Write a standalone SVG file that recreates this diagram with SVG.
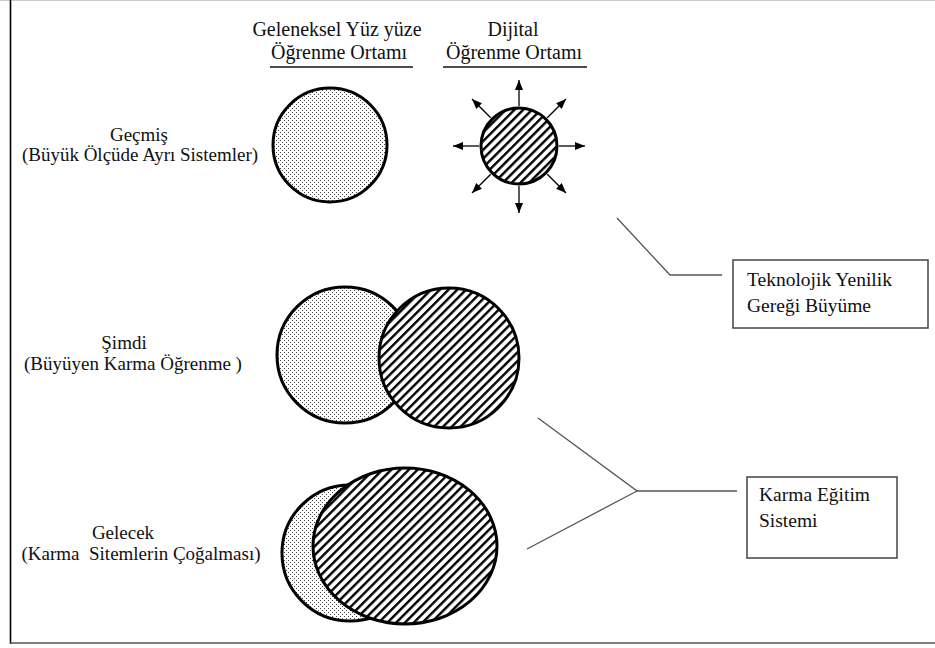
<svg xmlns="http://www.w3.org/2000/svg" width="935" height="648" viewBox="0 0 935 648">
<style>
.t{font-family:"Liberation Serif","Times New Roman","DejaVu Serif",serif;fill:#111}
.hd{font-size:20px}
.lb{font-size:19px}
.bx{font-size:19.5px}
.ring{stroke:#000;stroke-width:3}
.conn{stroke:#555;stroke-width:1.3;fill:none}
.arr{stroke:#000;stroke-width:1.3;marker-end:url(#ah)}
.box{fill:#fff;stroke:#444;stroke-width:1.5}
</style>
<defs>
<pattern id="dots" width="4" height="4" patternUnits="userSpaceOnUse">
<rect width="4" height="4" fill="#fff"/>
<rect x="0" y="0" width="1" height="1" fill="#444"/>
<rect x="2" y="2" width="1" height="1" fill="#444"/>
</pattern>
<pattern id="hatch" width="6.2" height="6.2" patternUnits="userSpaceOnUse" patternTransform="rotate(-45)">
<rect width="6.2" height="6.2" fill="#fff"/>
<rect x="0" y="0" width="6.2" height="2.4" fill="#000"/>
</pattern>
<marker id="ah" markerWidth="10" markerHeight="8" refX="10" refY="4" orient="auto" markerUnits="userSpaceOnUse">
<path d="M0,0 L10,4 L0,8 z" fill="#000"/>
</marker>
</defs>
<rect width="935" height="648" fill="#fff"/>
<g id="frame">
<line x1="0" y1="0.5" x2="935" y2="0.5" stroke="#ccc" stroke-width="1"/>
<line x1="10.5" y1="0" x2="10.5" y2="644" stroke="#000" stroke-width="1.6"/>
<line x1="10" y1="643" x2="935" y2="643" stroke="#555" stroke-width="1.6"/>
</g>
<g id="header-traditional" class="t hd" font-family="Liberation Serif, serif">
<text x="337" y="36" text-anchor="middle">Geleneksel Yüz yüze</text>
<text x="339" y="59" text-anchor="middle">Öğrenme Ortamı</text>
<line x1="270" y1="67" x2="413" y2="67" stroke="#111" stroke-width="1.3"/>
</g>
<g id="header-digital" class="t hd" font-family="Liberation Serif, serif">
<text x="513" y="36" text-anchor="middle">Dijital</text>
<text x="514" y="59" text-anchor="middle">Öğrenme Ortamı</text>
<line x1="443" y1="67" x2="587" y2="67" stroke="#111" stroke-width="1.3"/>
</g>
<g id="label-past" class="t lb" font-family="Liberation Serif, serif">
<text x="139" y="141" text-anchor="middle">Geçmiş</text>
<text x="140" y="161" text-anchor="middle">(Büyük Ölçüde Ayrı Sistemler)</text>
</g>
<g id="label-present" class="t lb" font-family="Liberation Serif, serif">
<text x="124" y="349" text-anchor="middle">Şimdi</text>
<text x="133" y="370" text-anchor="middle">(Büyüyen Karma Öğrenme )</text>
</g>
<g id="label-future" class="t lb" font-family="Liberation Serif, serif">
<text x="123" y="539" text-anchor="middle">Gelecek</text>
<text x="141" y="560" text-anchor="middle" xml:space="preserve">(Karma  Sitemlerin Çoğalması)</text>
</g>
<g id="past-traditional">
<circle class="ring" cx="330" cy="145" r="57" fill="url(#dots)"/>
</g>
<g id="past-digital">
<circle class="ring" cx="519" cy="146" r="38" fill="url(#hatch)"/>
<line class="arr" x1="519" y1="106" x2="519" y2="80"/>
<line class="arr" x1="519" y1="186" x2="519" y2="213"/>
<line class="arr" x1="479" y1="146" x2="453" y2="146"/>
<line class="arr" x1="559" y1="146" x2="585" y2="146"/>
<line class="arr" x1="547.3" y1="117.7" x2="566" y2="99"/>
<line class="arr" x1="490.7" y1="117.7" x2="472" y2="99"/>
<line class="arr" x1="490.7" y1="174.3" x2="472" y2="193"/>
<line class="arr" x1="547.3" y1="174.3" x2="566" y2="193"/>
</g>
<g id="present-circles">
<circle class="ring" cx="345" cy="355" r="68" fill="url(#dots)"/>
<circle class="ring" cx="449" cy="358" r="70" fill="url(#hatch)"/>
</g>
<g id="future-circles">
<circle class="ring" cx="350" cy="553" r="68" fill="url(#dots)"/>
<ellipse class="ring" cx="405" cy="546" rx="92" ry="78" fill="url(#hatch)"/>
</g>
<g id="connectors">
<polyline class="conn" points="617,218 670,275 722,275"/>
<polyline class="conn" points="538,418 637,491 527,549"/>
<line class="conn" x1="637" y1="491" x2="737" y2="491"/>
</g>
<g id="box-tech" class="t bx" font-family="Liberation Serif, serif">
<rect class="box" x="733" y="260" width="195" height="68"/>
<text x="747" y="286">Teknolojik Yenilik</text>
<text x="747" y="312">Gereği Büyüme</text>
</g>
<g id="box-blended" class="t bx" font-family="Liberation Serif, serif">
<rect class="box" x="747" y="477" width="150" height="81"/>
<text x="759" y="501">Karma Eğitim</text>
<text x="759" y="527">Sistemi</text>
</g>
</svg>
